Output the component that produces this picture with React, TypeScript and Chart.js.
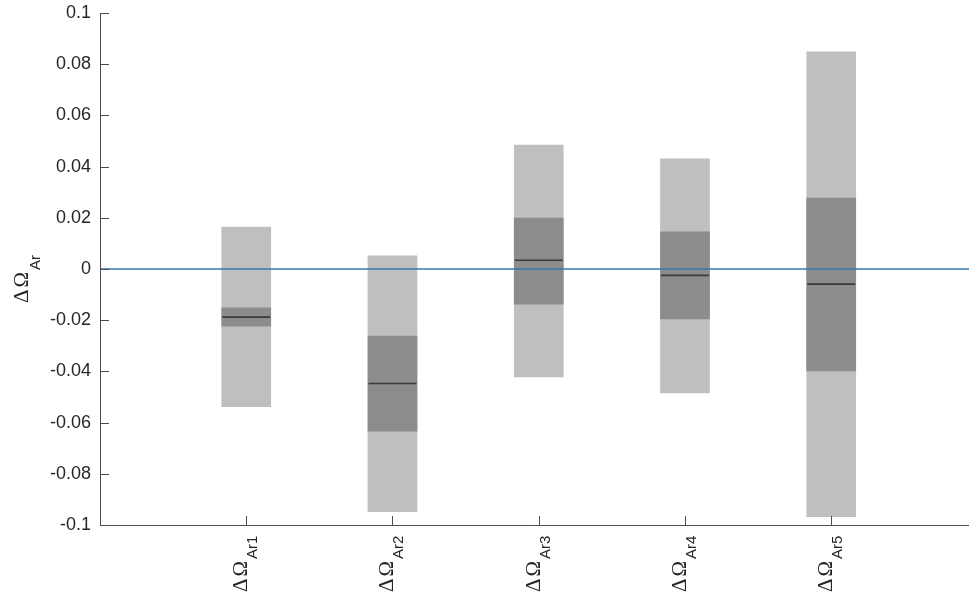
import { useEffect, useRef } from "react";
import { Chart, registerables } from "chart.js";

Chart.register(...registerables);

// Category labels (drawn as ΔΩ with a subscript) and their positions on the x axis
const categories = ["Ar1", "Ar2", "Ar3", "Ar4", "Ar5"];
const positions = [1, 2, 3, 4, 5];

// Outer (light) range of each category
const outerLow = [-0.0538, -0.0948, -0.0422, -0.0484, -0.0967];
const outerHigh = [0.0164, 0.0051, 0.0484, 0.043, 0.0848];

// Inner (dark) range of each category
const innerLow = [-0.0223, -0.0633, -0.0137, -0.0195, -0.0398];
const innerHigh = [-0.0152, -0.0262, 0.0199, 0.0145, 0.0277];

// Central value of each category
const medians = [-0.0188, -0.0447, 0.0034, -0.0025, -0.0059];

// y axis ticks
const yTicks = [-0.1, -0.08, -0.06, -0.04, -0.02, 0, 0.02, 0.04, 0.06, 0.08, 0.1];

const X_MIN = 0;
const X_MAX = 5.942;

const TEXT_COLOR = "#262626";
const AXIS_COLOR = "#4d4d4d";
const MAIN_FONT = "21px 'Liberation Serif', 'Times New Roman', serif";
const SUB_FONT = "15px 'Liberation Sans', Arial, sans-serif";

function drawRotatedLabel(
  ctx: CanvasRenderingContext2D,
  x: number,
  y: number,
  main: string,
  sub: string,
  subDrop: number
) {
  ctx.save();
  ctx.translate(x, y);
  ctx.rotate(-Math.PI / 2);
  ctx.fillStyle = TEXT_COLOR;
  ctx.textAlign = "left";
  ctx.textBaseline = "alphabetic";
  ctx.font = MAIN_FONT;
  let cx = 0;
  for (const ch of main) {
    ctx.fillText(ch, cx, 0);
    cx += ctx.measureText(ch).width + 2;
  }
  ctx.font = SUB_FONT;
  ctx.fillText(sub, cx, subDrop);
  ctx.restore();
}

const axesPlugin = {
  id: "axesAndLabels",
  afterDraw(chart: any) {
    const { ctx, chartArea, scales } = chart;
    const xs = scales.x;
    const ys = scales.y;
    ctx.save();
    ctx.strokeStyle = AXIS_COLOR;
    ctx.lineWidth = 1;

    // axis lines
    ctx.beginPath();
    ctx.moveTo(chartArea.left + 0.5, chartArea.top);
    ctx.lineTo(chartArea.left + 0.5, chartArea.bottom + 0.5);
    ctx.lineTo(chartArea.right, chartArea.bottom + 0.5);
    ctx.stroke();

    // inward y ticks
    ctx.beginPath();
    for (const v of yTicks) {
      const py = Math.round(ys.getPixelForValue(v)) + 0.5;
      ctx.moveTo(chartArea.left, py);
      ctx.lineTo(chartArea.left + 9, py);
    }
    // inward x ticks
    for (const p of positions) {
      const px = Math.round(xs.getPixelForValue(p)) + 0.5;
      ctx.moveTo(px, chartArea.bottom);
      ctx.lineTo(px, chartArea.bottom - 9);
    }
    ctx.stroke();

    // category labels
    categories.forEach((c, i) => {
      const px = xs.getPixelForValue(positions[i]);
      drawRotatedLabel(ctx, px + 1, 592, "ΔΩ", c, 10);
    });

    // y axis title
    drawRotatedLabel(ctx, 28, 303, "ΔΩ", "Ar", 12);
    ctx.restore();
  },
};

export default function App() {
  const canvasRef = useRef<HTMLCanvasElement | null>(null);

  useEffect(() => {
    if (!canvasRef.current) return;
    const chart = new Chart(canvasRef.current, {
      type: "bar",
      data: {
        datasets: [
          {
            type: "line",
            label: "zero",
            data: [
              { x: X_MIN, y: 0 },
              { x: X_MAX, y: 0 },
            ],
            borderColor: "#3579b5",
            borderWidth: 1.4,
            pointRadius: 0,
            order: 0,
          } as any,
          {
            type: "scatter",
            label: "median",
            data: positions.map((x, i) => ({ x, y: medians[i] })),
            pointStyle: "line",
            pointRadius: 24,
            pointHoverRadius: 24,
            borderColor: "#3a3a3a",
            borderWidth: 1.6,
            order: 1,
          } as any,
          {
            type: "bar",
            label: "inner",
            data: positions.map((x, i) => ({ x, y: [innerLow[i], innerHigh[i]] })),
            backgroundColor: "#8c8c8c",
            borderWidth: 0,
            barThickness: 49,
            grouped: false,
            order: 2,
          } as any,
          {
            type: "bar",
            label: "outer",
            data: positions.map((x, i) => ({ x, y: [outerLow[i], outerHigh[i]] })),
            backgroundColor: "#bfbfbf",
            borderWidth: 0,
            barThickness: 49,
            grouped: false,
            order: 3,
          } as any,
        ],
      },
      options: {
        animation: false,
        responsive: false,
        devicePixelRatio: 1,
        events: [],
        layout: { autoPadding: false, padding: { top: 13, right: 0, bottom: 75, left: 0 } },
        plugins: {
          legend: { display: false },
          tooltip: { enabled: false },
        },
        scales: {
          x: {
            type: "linear",
            min: X_MIN,
            max: X_MAX,
            offset: false,
            display: false,
            grid: { display: false, offset: false },
          },
          y: {
            type: "linear",
            min: -0.1,
            max: 0.1,
            afterFit: (s: any) => {
              s.width = 100;
              s.paddingTop = 0;
              s.paddingBottom = 0;
            },
            afterBuildTicks: (s: any) => {
              s.ticks = yTicks.map((v) => ({ value: v }));
            },
            grid: { display: false, drawTicks: false },
            border: { display: false },
            ticks: {
              padding: 9,
              color: TEXT_COLOR,
              font: { family: "'Liberation Sans', Arial, sans-serif", size: 18 },
              callback: (v: any) => String(Number(Number(v).toFixed(2))),
            },
          },
        },
      } as any,
      plugins: [axesPlugin],
    });
    return () => chart.destroy();
  }, []);

  return (
    <div style={{ position: "absolute", left: 0, top: 0, width: 969, height: 600, background: "#fff" }}>
      <canvas ref={canvasRef} width={969} height={600} style={{ display: "block" }} />
    </div>
  );
}
